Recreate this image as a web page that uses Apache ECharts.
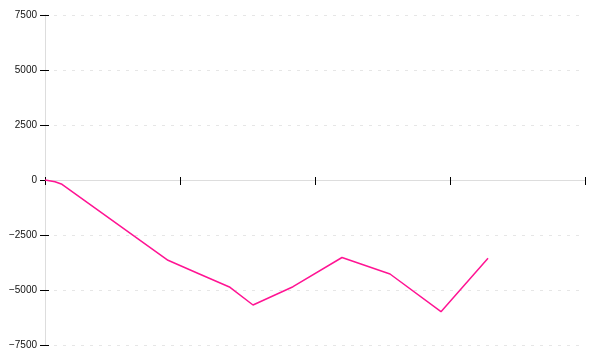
<!DOCTYPE html>
<html>
<head>
<meta charset="utf-8">
<script src="https://cdn.jsdelivr.net/npm/echarts@6/dist/echarts.min.js"></script>
<style>html,body{margin:0;padding:0;background:#fff}#c{width:600px;height:360px}</style>
</head>
<body>
<div id="c"></div>
<script>
const xValues = [0, 1.85, 3.15, 22.78, 28.7, 34.26, 38.52, 45.93, 55.0, 63.89, 73.33, 82.04];
const yValues = [0, -77, -195, -3650, -4286, -4877, -5682, -4850, -3523, -4273, -5986, -3559];
const yTicks = [-7500, -5000, -2500, 0, 2500, 5000, 7500];

const data = xValues.map((x, i) => [x, yValues[i]]);
const chart = echarts.init(document.getElementById('c'), null, {renderer: 'canvas'});
const fmt = v => String(v).replace('-', '\u2212');
const baseY = {type: 'value', min: yTicks[0], max: yTicks[yTicks.length - 1], interval: 2500};
const baseX = {type: 'value', min: 0, max: 100, interval: 25};
const clear = 'rgba(0,0,0,0)';
chart.setOption({
  animation: false,
  grid: {left: 45, right: 15, top: 15, bottom: 15},
  xAxis: [
    Object.assign({}, baseX, {
      axisLine: {onZero: true, lineStyle: {color: '#dddddd', width: 1}},
      axisTick: {show: true, inside: false, length: 5, lineStyle: {color: '#000'}},
      axisLabel: {show: false},
      splitLine: {show: false}
    }),
    Object.assign({}, baseX, {
      position: 'top', offset: -165,
      axisLine: {show: true, onZero: false, lineStyle: {color: clear}},
      axisTick: {show: true, inside: false, length: 3, lineStyle: {color: '#000'}},
      axisLabel: {show: false},
      splitLine: {show: false}
    })
  ],
  yAxis: [
    Object.assign({}, baseY, {
      axisLine: {show: true, lineStyle: {color: '#dddddd', width: 1}},
      axisTick: {show: true, inside: false, length: 5, lineStyle: {color: '#000'}},
      axisLabel: {show: true, margin: 8, fontFamily: 'Liberation Sans', fontSize: 10, color: '#111', formatter: fmt},
      splitLine: {show: true, lineStyle: {color: '#e6e6e6', type: [3, 6], width: 1}}
    }),
    Object.assign({}, baseY, {
      position: 'right', offset: -540,
      axisLine: {show: true, onZero: false, lineStyle: {color: clear}},
      axisTick: {show: true, inside: false, length: 4, lineStyle: {color: '#000'}},
      axisLabel: {show: false},
      splitLine: {show: false}
    })
  ],
  series: [
    {
      type: 'line', xAxisIndex: 0, yAxisIndex: 0, data: data,
      showSymbol: false, symbol: 'none',
      lineStyle: {color: '#ff1493', width: 1.5}
    },
    {
      type: 'line', xAxisIndex: 1, yAxisIndex: 1, data: [[200, 20000]],
      showSymbol: false, symbol: 'none', silent: true
    }
  ]
});
</script>
</body>
</html>
